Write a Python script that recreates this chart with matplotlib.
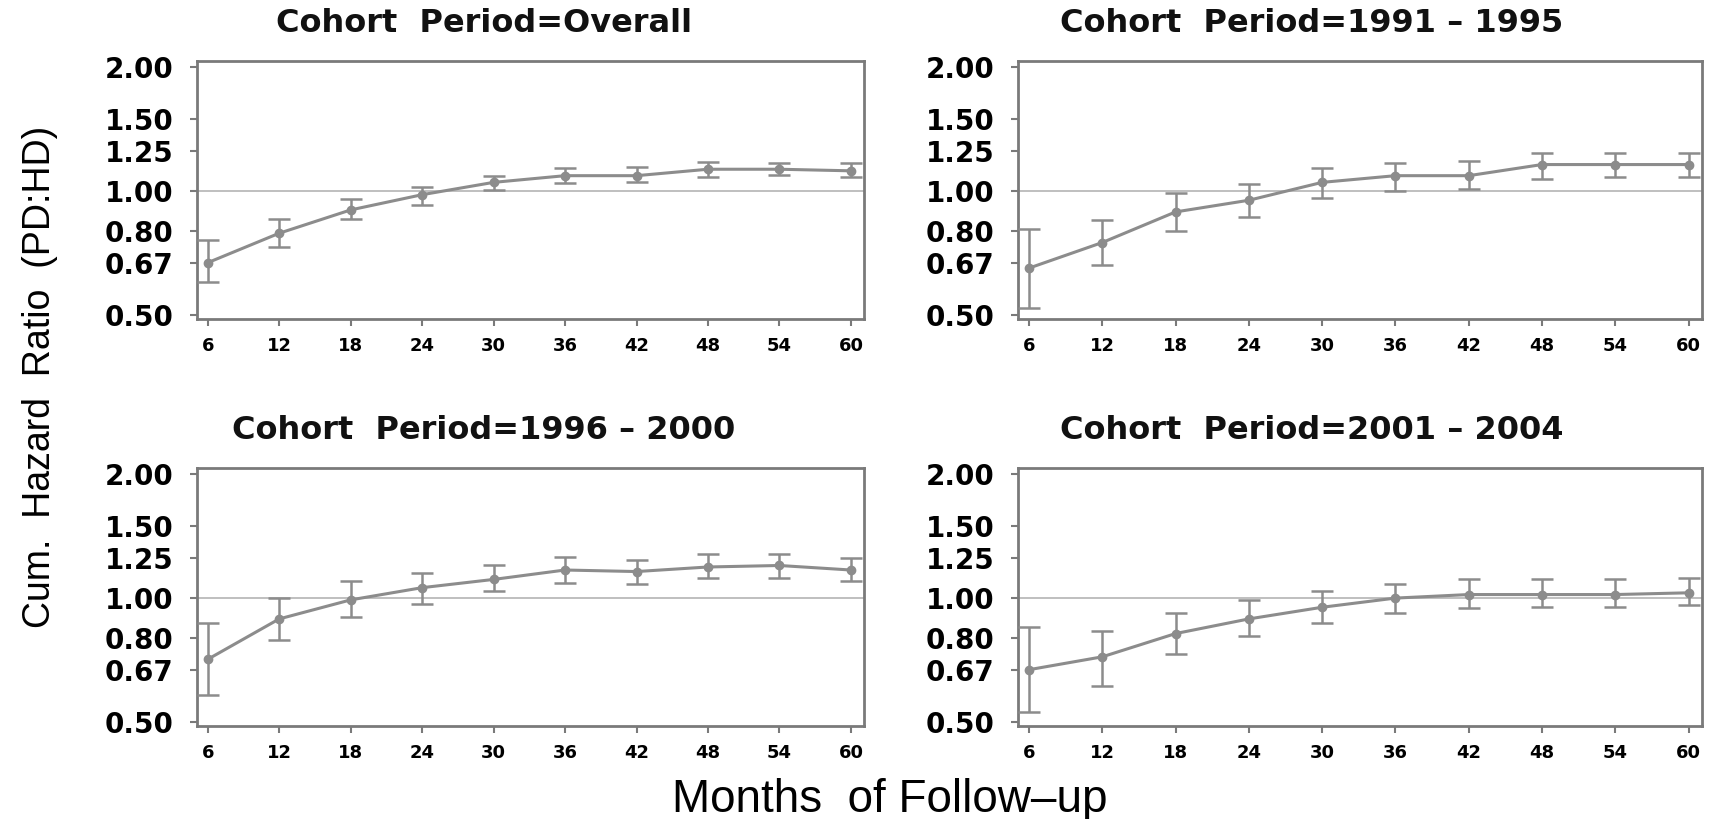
import numpy as np
import matplotlib
matplotlib.use('Agg')
from matplotlib import pyplot as plt
from matplotlib.ticker import FixedLocator, FixedFormatter, NullLocator

plt.rcParams['font.family'] = ['Liberation Sans', 'DejaVu Sans']

months = [6, 12, 18, 24, 30, 36, 42, 48, 54, 60]
yticks = [0.50, 0.67, 0.80, 1.00, 1.25, 1.50, 2.00]
ytick_labels = ['0.50', '0.67', '0.80', '1.00', '1.25', '1.50', '2.00']

titles = ['Cohort  Period=Overall', 'Cohort  Period=1991 \u2013 1995',
          'Cohort  Period=1996 \u2013 2000', 'Cohort  Period=2001 \u2013 2004']

overall_hr = [0.67, 0.79, 0.90, 0.98, 1.05, 1.09, 1.09, 1.13, 1.13, 1.12]
overall_lo = [0.60, 0.73, 0.855, 0.925, 1.006, 1.047, 1.053, 1.083, 1.093, 1.079]
overall_hi = [0.76, 0.854, 0.958, 1.024, 1.089, 1.135, 1.145, 1.178, 1.173, 1.167]

p1991_hr = [0.65, 0.75, 0.89, 0.95, 1.05, 1.09, 1.09, 1.16, 1.16, 1.16]
p1991_lo = [0.52, 0.66, 0.80, 0.865, 0.96, 1.00, 1.01, 1.07, 1.08, 1.08]
p1991_hi = [0.81, 0.85, 0.99, 1.04, 1.135, 1.17, 1.18, 1.24, 1.24, 1.24]

p1996_hr = [0.71, 0.89, 0.99, 1.06, 1.11, 1.17, 1.16, 1.19, 1.20, 1.17]
p1996_lo = [0.58, 0.79, 0.90, 0.97, 1.04, 1.09, 1.08, 1.12, 1.12, 1.10]
p1996_hi = [0.87, 1.00, 1.10, 1.15, 1.20, 1.26, 1.24, 1.28, 1.28, 1.25]

p2001_hr = [0.67, 0.72, 0.82, 0.89, 0.95, 1.00, 1.02, 1.02, 1.02, 1.03]
p2001_lo = [0.53, 0.61, 0.73, 0.81, 0.87, 0.92, 0.945, 0.95, 0.95, 0.96]
p2001_hi = [0.85, 0.83, 0.92, 0.99, 1.04, 1.08, 1.11, 1.11, 1.11, 1.12]

series = [(overall_hr, overall_lo, overall_hi),
          (p1991_hr, p1991_lo, p1991_hi),
          (p1996_hr, p1996_lo, p1996_hi),
          (p2001_hr, p2001_lo, p2001_hi)]

W, H = 1709, 819
fig = plt.figure(figsize=(W / 100, H / 100), dpi=100)

# panel boxes in pixels: left, right, top, bottom
boxes = [(197, 864, 61, 319), (1018, 1702, 61, 319),
         (197, 864, 468, 726), (1018, 1702, 468, 726)]

gray = '#8c8c8c'
frame = '#7a7a7a'

for (l, r, t, b), title, (hr, lo, hi) in zip(boxes, titles, series):
    ax = fig.add_axes([l / W, 1 - b / H, (r - l) / W, (b - t) / H])
    hr = np.array(hr)
    err = [hr - np.array(lo), np.array(hi) - hr]
    ax.axhline(1.0, color='#b4b4b4', lw=1.2, zorder=1)
    ax.errorbar(months, hr, yerr=err, color=gray, lw=2.2, elinewidth=1.8,
                capsize=8, capthick=1.8, marker='o', ms=6, zorder=3)
    ax.set_yscale('log')
    ax.set_ylim(0.489, 2.07)
    ax.set_xlim(5.1, 61.1)
    ax.yaxis.set_major_locator(FixedLocator(yticks))
    ax.yaxis.set_major_formatter(FixedFormatter(ytick_labels))
    ax.yaxis.set_minor_locator(NullLocator())
    ax.set_xticks(months)
    ax.set_xticklabels([str(m) for m in months])
    for s in ax.spines.values():
        s.set_color(frame)
        s.set_linewidth(2)
    ax.tick_params(axis='y', direction='out', length=5, width=1.5, color=frame,
                   labelsize=20, pad=12)
    ax.tick_params(axis='x', direction='out', length=5, width=1.5, color=frame,
                   labelsize=13, pad=8)
    for lab in ax.get_yticklabels() + ax.get_xticklabels():
        lab.set_fontweight('bold')
        lab.set_family('DejaVu Sans')
    ax.text(0.43, 1.112, title, transform=ax.transAxes, fontsize=23,
            fontweight='bold', family='DejaVu Sans', color='#111111',
            ha='center', va='baseline')

fig.text(0.5208, 0.0089, 'Months  of Follow\u2013up', fontsize=33,
         ha='center', va='baseline')
fig.text(0.0234, 0.540, 'Cum.  Hazard  Ratio  (PD:HD)', fontsize=27,
         rotation=90, ha='center', va='center')

fig.savefig('out.png', dpi=100)
